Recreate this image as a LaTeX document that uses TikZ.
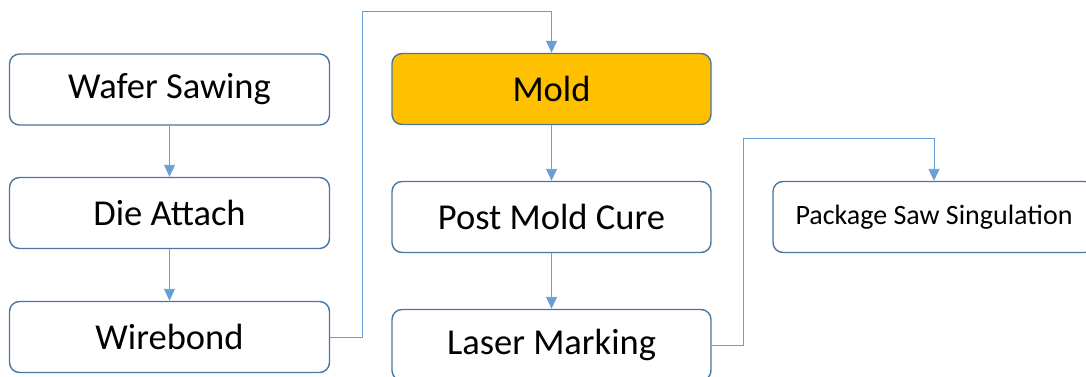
\documentclass[tikz,border=0pt]{standalone}
\usepackage{fontspec}
\setmainfont{Carlito}
\usetikzlibrary{arrows.meta}
\definecolor{boxline}{HTML}{4A76A0}
\definecolor{connline}{HTML}{6A9FD3}
\definecolor{moldfill}{HTML}{FFC000}
\tikzset{
  stepbox/.style={draw=boxline, line width=1.4pt, rounded corners=10pt, fill=white,
    minimum width=320pt, minimum height=71pt, inner sep=0pt, text=black,
    font=\fontsize{36.5}{40}\selectfont},
  conn/.style={draw=connline, line width=0.9pt, -{Triangle[length=12pt,width=11pt]}}
}
\begin{document}
\begin{tikzpicture}[x=1pt,y=-1pt]
\useasboundingbox (0,0) rectangle (1086,377);
\clip (0,0) rectangle (1086,377);
\node[stepbox] (ws) at (169.5,89.5) {Wafer Sawing};
\node[stepbox] (da) at (169.5,213) {Die Attach};
\node[stepbox] (wb) at (169.5,337) {Wirebond};
\node[stepbox, fill=moldfill, minimum width=319pt] (mold) at (551.5,89) {Mold};
\node[stepbox, minimum width=319pt] (pmc) at (551.5,217) {Post Mold Cure};
\node[stepbox, minimum width=319pt] (lm) at (551.5,345) {Laser Marking};
\node[stepbox, minimum width=322pt, font=\fontsize{28}{32}\selectfont] (pss) at (934,217) {Package Saw Singulation};
\coordinate (c1) at (362,11);
\coordinate (c2) at (743,138);
\draw[conn] (ws.south) -- (da.north);
\draw[conn] (da.south) -- (wb.north);
\draw[conn] (wb.east) -| (c1) -| (mold.north);
\draw[conn] (mold.south) -- (pmc.north);
\draw[conn] (pmc.south) -- (lm.north);
\draw[conn] (lm.east) -| (c2) -| (pss.north);
\end{tikzpicture}
\end{document}
